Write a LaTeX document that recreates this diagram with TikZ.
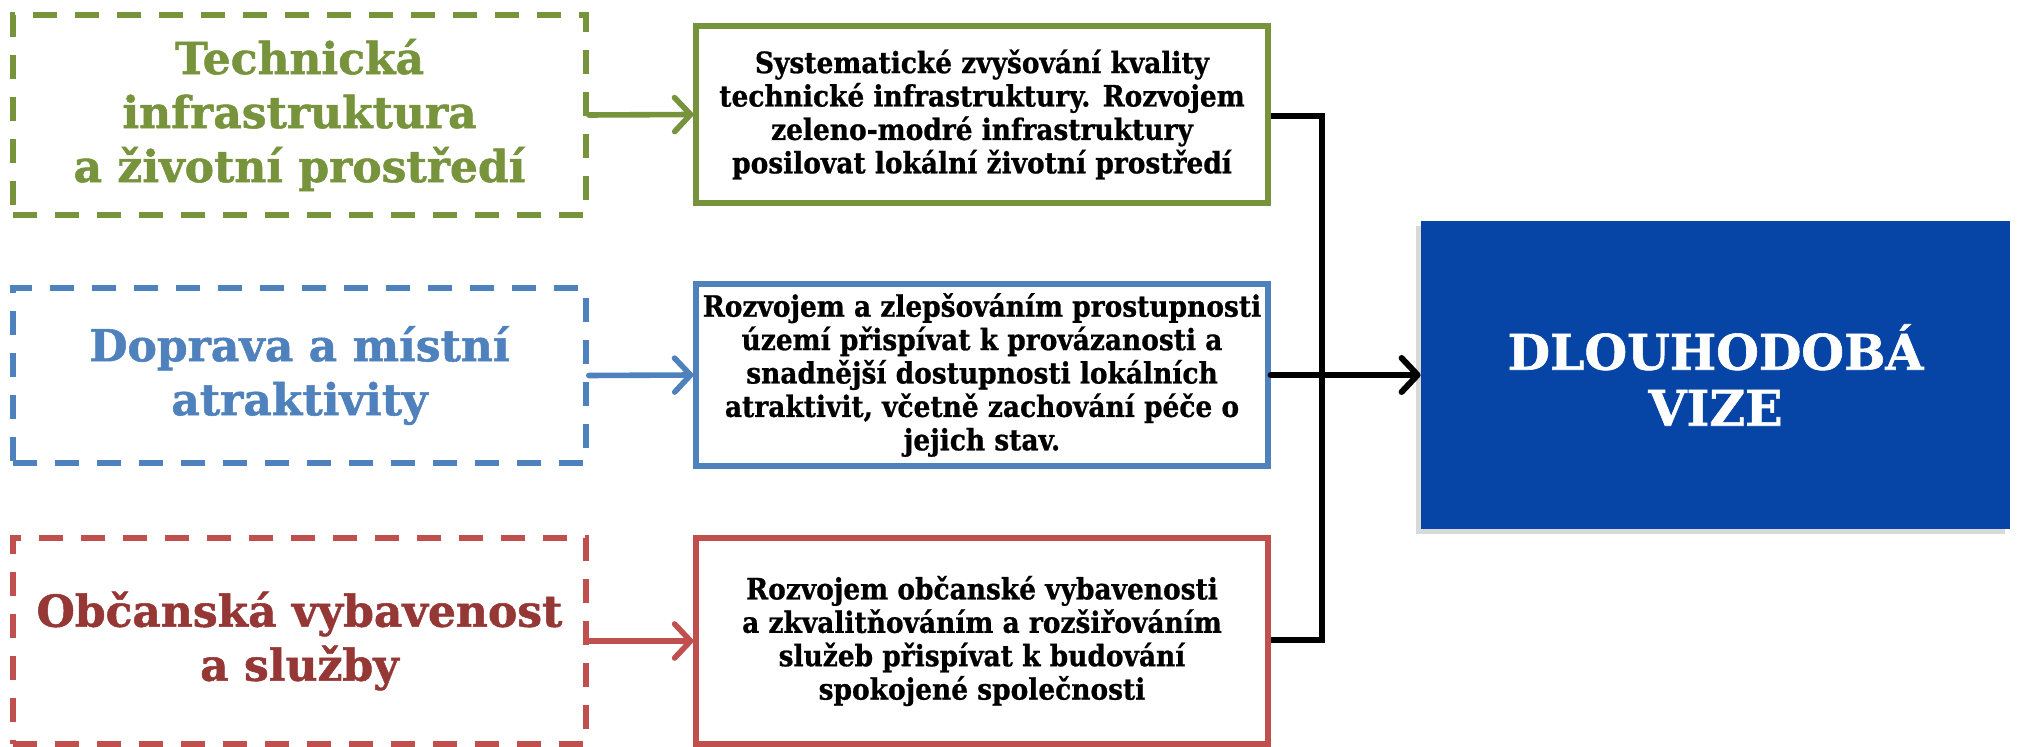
\documentclass[tikz,border=0pt]{standalone}
\usepackage{fontspec}
\setmainfont{DejaVu Serif}
\newfontfamily\heavyfont{DejaVu Serif}[BoldFeatures={FakeBold=1.2}]
\newfontfamily\condfont{DejaVu Serif Condensed}[BoldFeatures={FakeBold=0.8}]
\usetikzlibrary{arrows.meta,shadows}
\definecolor{cgreen}{RGB}{119,147,60}
\definecolor{cblue}{RGB}{79,129,189}
\definecolor{cred}{RGB}{192,80,77}
\definecolor{credtext}{RGB}{149,55,53}
\definecolor{cvize}{RGB}{6,69,165}
\begin{document}
\begin{tikzpicture}[x=0.5pt,y=-0.5pt,
  lbl/.style={draw, dash pattern=on 12pt off 9pt, line width=2.8pt,
    minimum width=286.5pt, inner sep=0pt, align=center,
    font=\heavyfont\fontsize{22}{27}\selectfont\bfseries},
  goal/.style={draw, line width=2.6pt, fill=white, minimum width=286pt,
    inner sep=0pt, align=center,
    font=\condfont\fontsize{14.7}{16.7}\selectfont\bfseries},
  link/.style={line width=2.8pt, line cap=round,
    -{Straight Barb[length=8pt,width=17pt,line cap=round,line join=round]}},
  bus/.style={line width=3pt, line join=miter}
]
\useasboundingbox (0,0) rectangle (2018,747);

% left dashed labels
\node[lbl, cgreen, text=cgreen, minimum height=100pt] (gl) at (299.5,115)
  {Technická\\infrastruktura\\a životní prostředí};
\node[lbl, cblue, text=cblue, minimum height=87.5pt] (bl) at (299.5,375.5)
  {Doprava a místní\\atraktivity};
\node[lbl, cred, text=credtext, minimum height=103pt] (rl) at (299.5,641)
  {Občanská vybavenost\\a služby};

% middle goal boxes
\node[goal, draw=cgreen, minimum height=88.5pt] (gs) at (982,114.5)
  {Systematické zvyšování kvality\\technické infrastruktury. Rozvojem\\zeleno-modré infrastruktury\\posilovat lokální životní prostředí};
\node[goal, draw=cblue, minimum height=91pt] (bs) at (982,375)
  {Rozvojem a zlepšováním prostupnosti\\území přispívat k provázanosti a\\snadnější dostupnosti lokálních\\atraktivit, včetně zachování péče o\\jejich stav.};
\node[goal, draw=cred, minimum height=103pt] (rs) at (982,641)
  {Rozvojem občanské vybavenosti\\a zkvalitňováním a rozšiřováním\\služeb přispívat k budování\\spokojené společnosti};

% vision box
\node[fill=cvize, minimum width=294.5pt, minimum height=154pt, inner sep=0pt,
  align=center, text=white,
  font=\heavyfont\fontsize{24.5}{28}\selectfont\bfseries,
  drop shadow={shadow xshift=-2.5pt, shadow yshift=-2.5pt, opacity=0.3}] (vize) at (1715.5,375)
  {DLOUHODOBÁ\\VIZE};

% arrows from labels to goals
\draw[link, cgreen] (gl.east) -- (gs.west);
\draw[link, cblue] (bl.east) -- (bs.west);
\draw[link, cred] (rl.east) -- (rs.west);

% bus to vision
\coordinate (bt) at (1322,116);
\coordinate (bb) at (1322,640);
\draw[bus] (gs.east |- bt) -- (bt) -- (bb) -- (rs.east |- bb);
\draw[link, black, line width=3pt] (bs.east) -- (vize.west);
\end{tikzpicture}
\end{document}
